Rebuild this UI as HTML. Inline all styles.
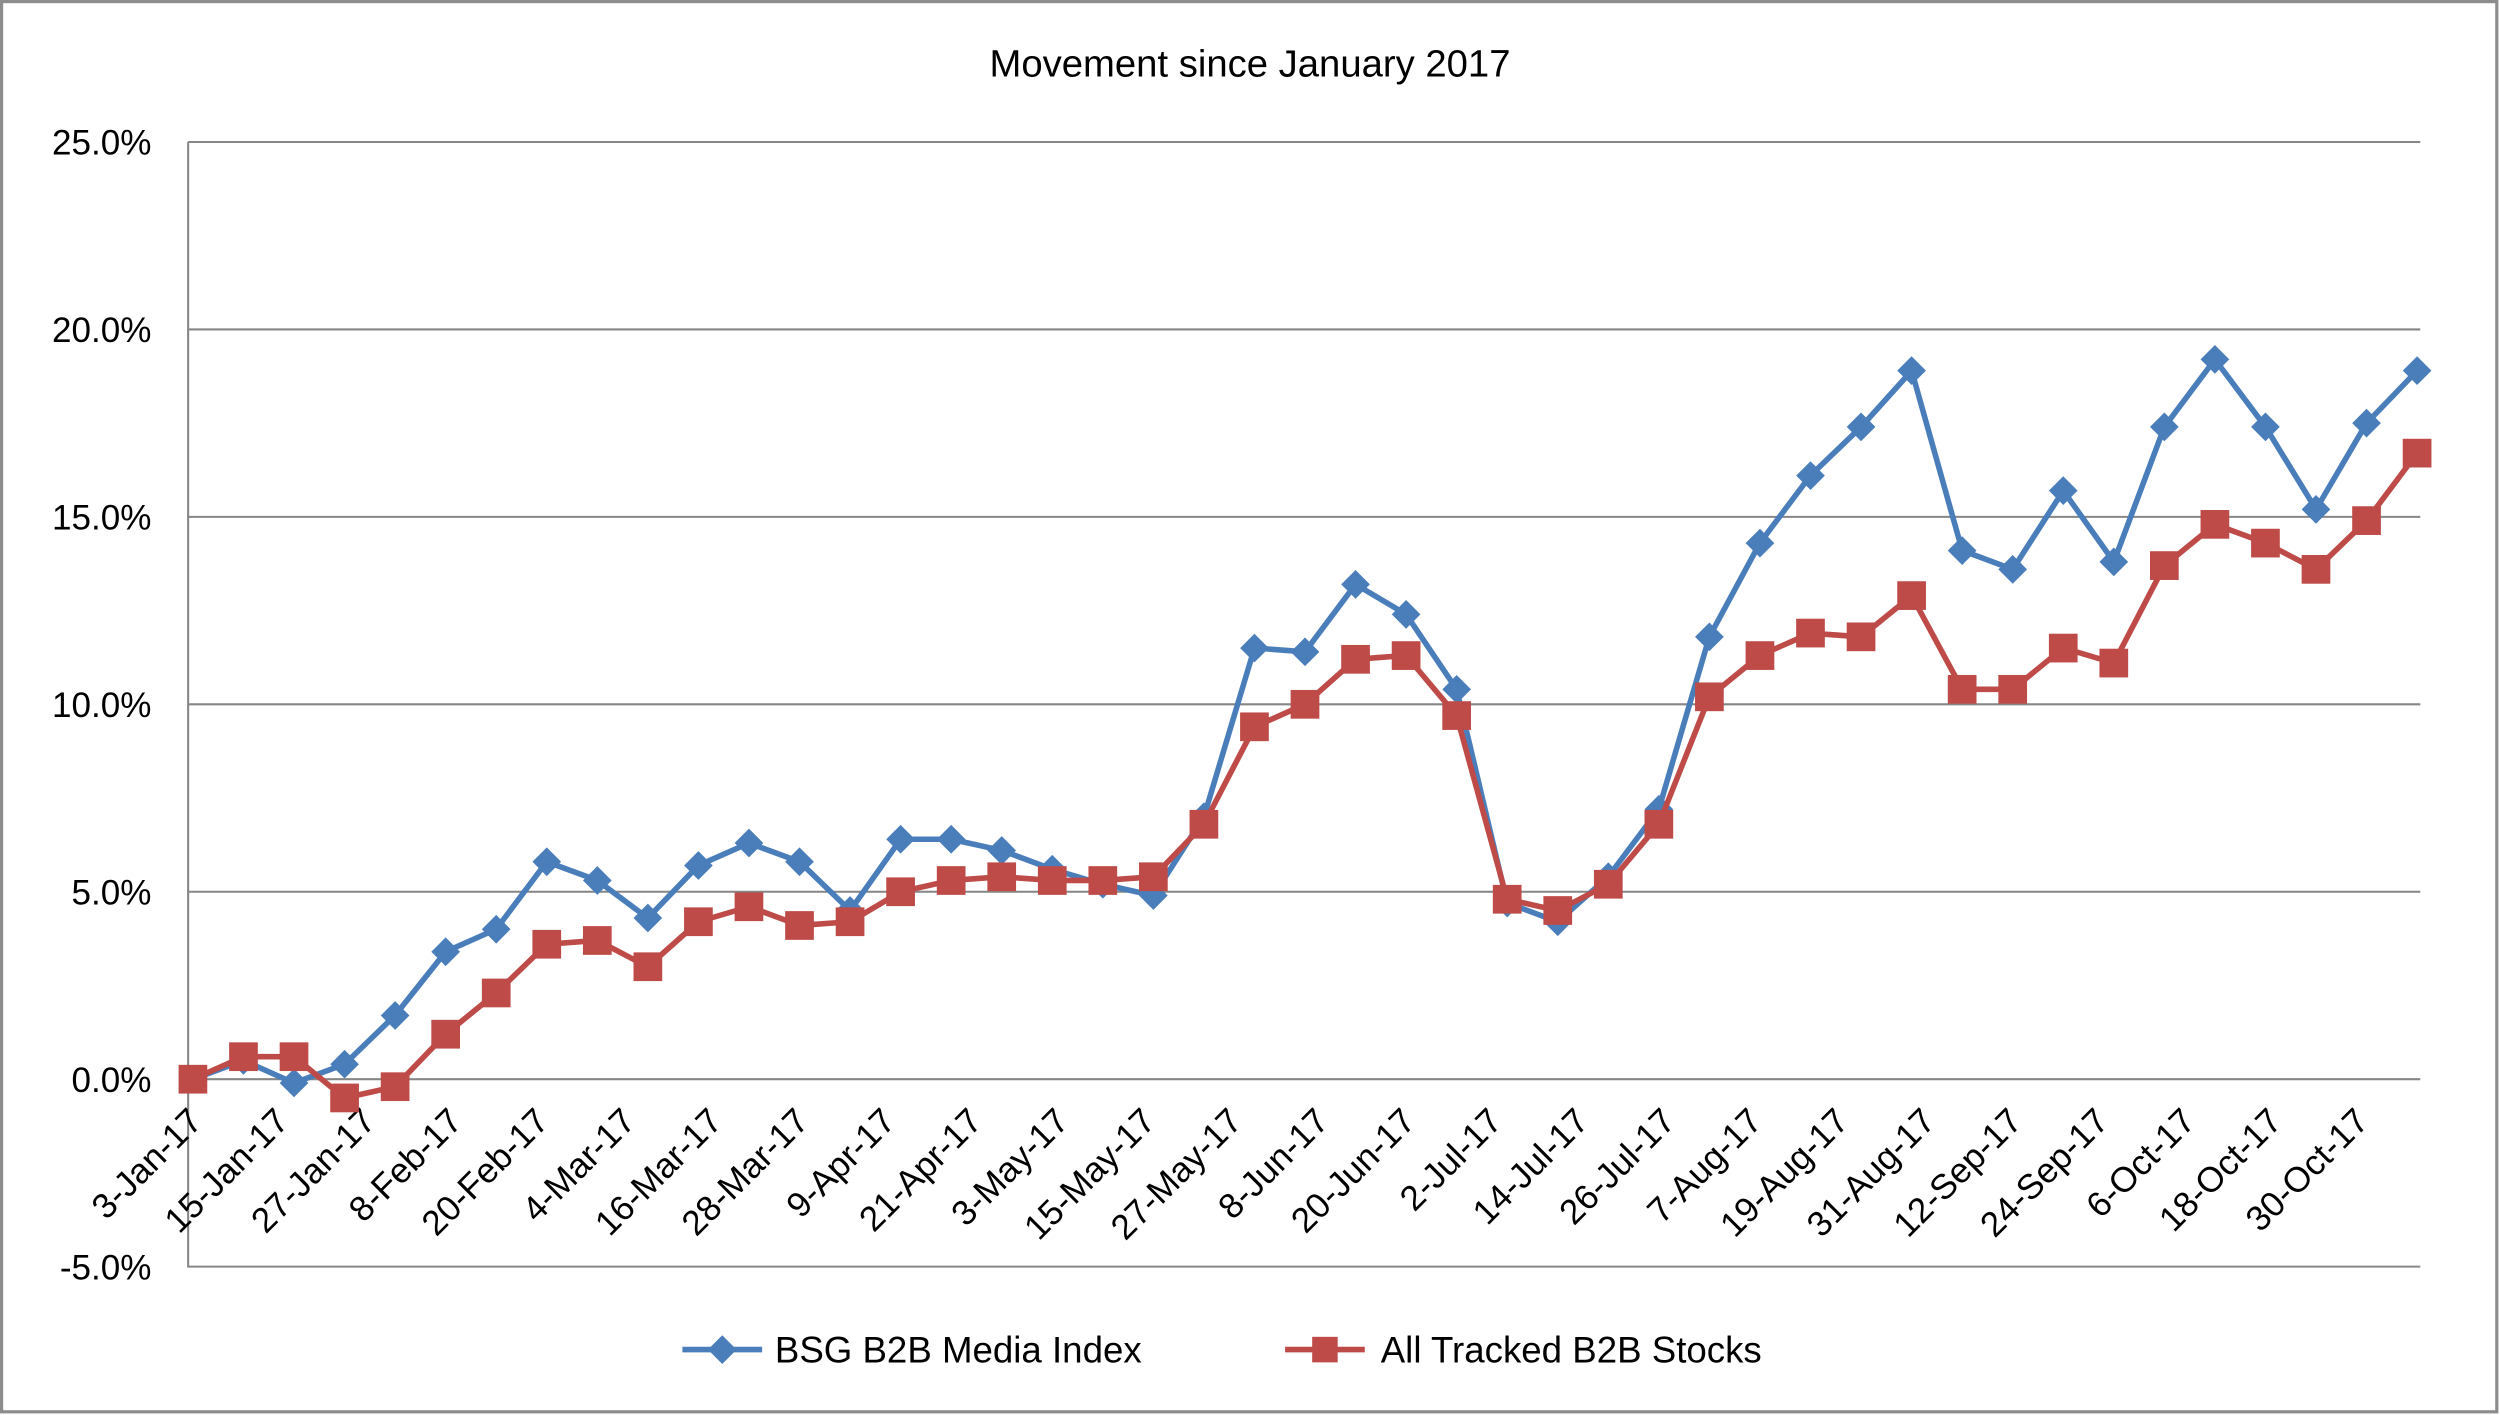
<!DOCTYPE html>
<html><head><meta charset="utf-8">
<style>
html,body{margin:0;padding:0;background:#fff;}
svg{display:block;}
text{font-family:"Liberation Sans",Arial,sans-serif;fill:#000;}
</style></head>
<body>
<svg id="chart" width="2500" height="1415" viewBox="0 0 1568 887" preserveAspectRatio="none" xmlns="http://www.w3.org/2000/svg">
<rect x="1" y="1" width="1565" height="884" fill="#fff" stroke="#8c8c8c" stroke-width="2"/>
<text x="784" y="48" font-size="24" text-anchor="middle">Movement since January 2017</text>
<g id="grid"></g>
<g id="yticks"></g>
<g id="xticks"></g>
<g id="series"></g>
<g>
  <g>
    <line x1="428" y1="846" x2="478" y2="846" stroke="#4a7ebb" stroke-width="3.5"/>
    <path d="M453 837 L462 846 L453 855 L444 846 Z" fill="#4a7ebb"/>
    <text x="486" y="854" font-size="23">BSG B2B Media Index</text>
  </g>
  <g>
    <line x1="806" y1="846" x2="856" y2="846" stroke="#be4b48" stroke-width="3.5"/>
    <rect x="823" y="838" width="16" height="16" fill="#be4b48"/>
    <text x="866" y="854" font-size="23">All Tracked B2B Stocks</text>
  </g>
</g>
</svg>
<script>
const bsgValues = [0,0.5,-0.1,0.4,1.7,3.4,4.0,5.8,5.3,4.3,5.7,6.3,5.8,4.5,6.4,6.4,6.1,5.6,5.2,4.9,7.0,11.5,11.4,13.2,12.4,10.4,4.7,4.2,5.4,7.2,11.8,14.3,16.1,17.4,18.9,14.1,13.6,15.7,13.8,17.4,19.2,17.4,15.2,17.5,18.9];
const allValues = [0,0.6,0.6,-0.5,-0.2,1.2,2.3,3.6,3.7,3.0,4.2,4.6,4.1,4.2,5.0,5.3,5.4,5.3,5.3,5.4,6.8,9.4,10.0,11.2,11.3,9.7,4.8,4.5,5.2,6.8,10.2,11.3,11.9,11.8,12.9,10.4,10.4,11.5,11.1,13.7,14.8,14.3,13.6,14.9,16.7];
const xTickLabels = ["3-Jan-17","15-Jan-17","27-Jan-17","8-Feb-17","20-Feb-17","4-Mar-17","16-Mar-17","28-Mar-17","9-Apr-17","21-Apr-17","3-May-17","15-May-17","27-May-17","8-Jun-17","20-Jun-17","2-Jul-17","14-Jul-17","26-Jul-17","7-Aug-17","19-Aug-17","31-Aug-17","12-Sep-17","24-Sep-17","6-Oct-17","18-Oct-17","30-Oct-17"];
const yTickValues = [-5,0,5,10,15,20,25];
const labelDayStep = 12;
const pointDayStep = 7;

const NS = "http://www.w3.org/2000/svg";
const L = 118, R = 1518, T = 89, B = 794;
const x0 = 121, ptStep = (1516 - 121) / 44;
function xDay(d){ return x0 + d / pointDayStep * ptStep; }
function xIdx(i){ return x0 + i * ptStep; }
function y(v){ return B - (v - (-5)) / 30 * (B - T); }
function mk(tag, attrs, parent){ const e = document.createElementNS(NS, tag); for (const k in attrs) e.setAttribute(k, attrs[k]); parent.appendChild(e); return e; }

const grid = document.getElementById('grid');
const yt = document.getElementById('yticks');
yTickValues.forEach(v => {
  if (v > -5) {
    const g = mk('line', {x1:L, x2:R, y1:y(v), y2:y(v), stroke:'#868686', 'stroke-width':1.3}, grid);
    
    
  }
  const t = mk('text', {x:95, y:y(v)+8, 'font-size':22, 'text-anchor':'end'}, yt);
  
  
  t.textContent = v.toFixed(1) + '%';
});
const ax = mk('path', {d:`M${L} ${T} L${L} ${B} L${R} ${B}`, fill:'none', stroke:'#868686', 'stroke-width':1.3}, grid);



const xt = document.getElementById('xticks');
xTickLabels.forEach((lab, i) => {
  const x = xDay(i * labelDayStep);
  const t = mk('text', {'font-size':22, 'text-anchor':'end', transform:`translate(${x + 7},${704}) rotate(-45)`}, xt);
  
  
  t.textContent = lab;
});

const sg = document.getElementById('series');
function drawSeries(vals, color, marker, name){
  const g = mk('g', {}, sg);
  
  
  const pts = vals.map((v, i) => xIdx(i).toFixed(1) + ',' + y(v).toFixed(1)).join(' ');
  const pl = mk('polyline', {points:pts, fill:'none', stroke:color, 'stroke-width':3.5, 'stroke-linejoin':'round'}, g);
  
  
  vals.forEach((v, i) => {
    const cx = xIdx(i), cy = y(v);
    let m;
    if (marker === 'diamond') m = mk('path', {d:`M${cx} ${cy-9} L${cx+9} ${cy} L${cx} ${cy+9} L${cx-9} ${cy} Z`, fill:color}, g);
    else m = mk('rect', {x:cx-9, y:cy-9, width:18, height:18, fill:color}, g);
    
    
  });
}
drawSeries(bsgValues, '#4a7ebb', 'diamond', 'bsg-b2b-media-index');
drawSeries(allValues, '#be4b48', 'square', 'all-tracked-b2b-stocks');
</script>
</body></html>
